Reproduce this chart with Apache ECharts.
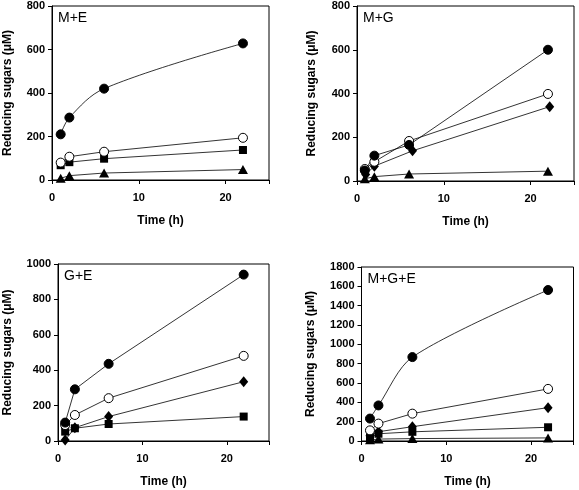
<!DOCTYPE html>
<html>
<head>
<meta charset="utf-8">
<script src="https://cdn.jsdelivr.net/npm/echarts@6/dist/echarts.min.js"></script>
<style>
html,body{margin:0;padding:0;background:#fff;}
#c{width:579px;height:490px;}
</style>
</head>
<body>
<div id="c"></div>
<script>
// ---- Data ----
const panelTitles = ['M+E', 'M+G', 'G+E', 'M+G+E'];
const xTicks = [0, 10, 20];
const yMaxes = [800, 800, 1000, 1800];
const yIntervals = [200, 200, 200, 200];

// M+E
const meTimes = [1, 2, 6, 22];
const meFilled = [210, 287, 420, 628];
const meOpen = [80, 107, 130, 194];
const meSquare = [68, 82, 98, 138];
const meTriangle = [8, 20, 32, 48];

// M+G
const mgTimes = [0.9, 2, 6, 22];
const mgDiamondTimes = [1, 2, 6.4, 22.2];
const mgFilled = [48, 116, 165, 600];
const mgOpen = [55, 88, 183, 398];
const mgDiamond = [30, 68, 138, 340];
const mgTriangle = [10, 20, 32, 45];

// G+E
const geTimes = [0.85, 2, 6, 22];
const geFilled = [104, 292, 436, 940];
const geOpen = [90, 147, 242, 481];
const geDiamond = [5, 75, 138, 335];
const geSquare = [53, 72, 96, 138];

// M+G+E
const mgeTimes = [1, 2, 6, 22];
const mgeFilled = [232, 368, 868, 1562];
const mgeOpen = [110, 180, 283, 539];
const mgeDiamond = [55, 96, 148, 345];
const mgeSquare = [40, 75, 95, 142];
const mgeTriangle = [12, 20, 25, 32];

// ---- Chart ----
const FONT = '"Liberation Sans", Arial, sans-serif';
const grids = [
  {left: 52, top: 6, width: 217, height: 174},
  {left: 357, top: 6, width: 217, height: 175},
  {left: 58, top: 264, width: 211, height: 177},
  {left: 361.5, top: 267, width: 212, height: 174}
];
const yNameGaps = [38, 39, 44, 45];

const markerStyles = {
  filled: {symbol: 'circle', symbolSize: 9, itemStyle: {color: '#000', borderColor: '#000', borderWidth: 1}},
  open: {symbol: 'circle', symbolSize: 9, itemStyle: {color: '#fff', borderColor: '#000', borderWidth: 1}},
  square: {symbol: 'rect', symbolSize: 8, itemStyle: {color: '#000', borderColor: '#000', borderWidth: 0}},
  diamond: {symbol: 'diamond', symbolSize: [9, 11], itemStyle: {color: '#000', borderColor: '#000', borderWidth: 0}},
  triangle: {symbol: 'triangle', symbolSize: [10, 9], itemStyle: {color: '#000', borderColor: '#000', borderWidth: 0}}
};

function pair(t, v) { return v.map((y, i) => [t[i], y]); }

function mkSeries(gi, kind, t, v, smooth) {
  const m = markerStyles[kind];
  return {
    type: 'line', xAxisIndex: gi, yAxisIndex: gi,
    data: pair(t, v), smooth: smooth || false,
    symbol: m.symbol, symbolSize: m.symbolSize, showSymbol: true,
    itemStyle: m.itemStyle,
    lineStyle: {color: '#000', width: 0.8},
    z: 3, animation: false
  };
}

const series = [
  mkSeries(0, 'triangle', meTimes, meTriangle),
  mkSeries(0, 'square', meTimes, meSquare),
  mkSeries(0, 'open', meTimes, meOpen),
  mkSeries(0, 'filled', meTimes, meFilled, 0.35),

  mkSeries(1, 'triangle', mgTimes, mgTriangle),
  mkSeries(1, 'diamond', mgDiamondTimes, mgDiamond),
  mkSeries(1, 'open', mgTimes, mgOpen),
  mkSeries(1, 'filled', mgTimes, mgFilled),

  mkSeries(2, 'diamond', geTimes, geDiamond),
  mkSeries(2, 'square', geTimes, geSquare),
  mkSeries(2, 'open', geTimes, geOpen),
  mkSeries(2, 'filled', geTimes, geFilled),

  mkSeries(3, 'triangle', mgeTimes, mgeTriangle),
  mkSeries(3, 'square', mgeTimes, mgeSquare),
  mkSeries(3, 'diamond', mgeTimes, mgeDiamond),
  mkSeries(3, 'open', mgeTimes, mgeOpen),
  mkSeries(3, 'filled', mgeTimes, mgeFilled, 0.3)
];

const xAxes = grids.map((g, i) => ({
  type: 'value', gridIndex: i, min: 0, max: 25, interval: 10,
  name: 'Time (h)', nameLocation: 'middle', nameGap: 35,
  nameTextStyle: {fontFamily: FONT, fontWeight: 'bold', fontSize: 12, color: '#000'},
  axisLine: {show: true, onZero: false, lineStyle: {color: '#000', width: 1}},
  axisTick: {show: true, inside: false, length: 4, lineStyle: {color: '#000'}},
  axisLabel: {fontFamily: FONT, fontWeight: 'bold', fontSize: 11, color: '#000', margin: 12,
    formatter: v => (xTicks.indexOf(v) >= 0 ? String(v) : '')},
  splitLine: {show: false}
}));

const yAxes = grids.map((g, i) => ({
  type: 'value', gridIndex: i, min: 0, max: yMaxes[i], interval: yIntervals[i],
  name: 'Reducing sugars (\u03BCM)', nameLocation: 'middle', nameGap: yNameGaps[i], nameRotate: 90,
  nameTextStyle: {fontFamily: FONT, fontWeight: 'bold', fontSize: 12, color: '#000'},
  axisLine: {show: true, lineStyle: {color: '#000', width: 1}},
  axisTick: {show: true, inside: false, length: 4, lineStyle: {color: '#000'}},
  axisLabel: {fontFamily: FONT, fontWeight: 'bold', fontSize: 11, color: '#000', margin: 7,
    formatter: v => String(v)},
  splitLine: {show: false}
}));

const titles = grids.map((g, i) => ({
  text: panelTitles[i], left: g.left + 6, top: g.top + 5,
  textStyle: {fontFamily: FONT, fontWeight: 'normal', fontSize: 14, color: '#000'},
  padding: 0
}));

const chart = echarts.init(document.getElementById('c'), null, {renderer: 'canvas'});
chart.setOption({
  animation: false,
  backgroundColor: '#fff',
  title: titles,
  grid: grids.map(g => Object.assign({show: true, borderColor: '#000', borderWidth: 1, backgroundColor: 'transparent'}, g)),
  xAxis: xAxes,
  yAxis: yAxes,
  series: series
});
</script>
</body>
</html>
